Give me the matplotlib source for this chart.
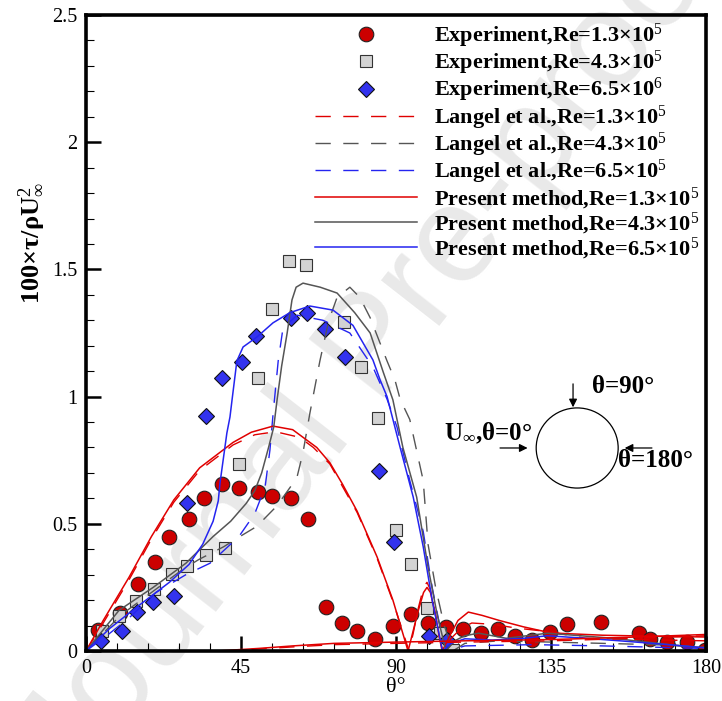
import numpy as np
import matplotlib
matplotlib.use("Agg")
import matplotlib.pyplot as plt
from matplotlib.patches import Ellipse

plt.rcParams["font.family"] = ["Liberation Serif", "DejaVu Serif"]
plt.rcParams["mathtext.fontset"] = "custom"
plt.rcParams["mathtext.rm"] = "Liberation Serif"
plt.rcParams["mathtext.it"] = "Liberation Serif:italic"
plt.rcParams["mathtext.bf"] = "Liberation Serif:bold"

# ---------- experiment points (theta in deg, 100*tau/rhoU^2) ----------
exp13_theta = [3.5, 9.9, 15, 20, 24, 30, 34.3, 39.4, 44.4, 50, 54, 59.5, 64.4, 69.7, 74.4,
               78.7, 84, 89.2, 94.4, 99.3, 104.5, 109.5, 114.7, 119.6, 124.6, 129.5, 134.7,
               139.6, 149.5, 160.5, 163.8, 168.7, 174.5, 179.7]
exp13_val = [0.083, 0.15, 0.263, 0.35, 0.45, 0.52, 0.60, 0.656, 0.64, 0.625, 0.61, 0.60, 0.52,
             0.173, 0.11, 0.078, 0.047, 0.098, 0.145, 0.11, 0.095, 0.086, 0.072, 0.086, 0.059,
             0.043, 0.074, 0.105, 0.113, 0.072, 0.047, 0.036, 0.036, 0.004]

exp43_theta = [4.6, 9.6, 14.5, 19.7, 25, 29.3, 34.8, 40.4, 44.4, 50, 54, 58.9, 63.9, 74.9,
               79.8, 84.8, 90, 94.4, 99, 102.8, 106.6]
exp43_val = [0.078, 0.137, 0.197, 0.243, 0.302, 0.334, 0.377, 0.405, 0.735, 1.073, 1.344,
             1.533, 1.517, 1.293, 1.116, 0.916, 0.476, 0.342, 0.169, 0.071, 0.004]

exp65_theta = [4.4, 10.4, 14.8, 19.5, 25.6, 29.3, 34.8, 39.5, 45.3, 49.4, 59.5, 64.2, 69.4,
               75.2, 85, 89.4, 99.6, 104.8]
exp65_val = [0.04, 0.078, 0.152, 0.193, 0.215, 0.582, 0.924, 1.073, 1.136, 1.238, 1.309,
             1.329, 1.266, 1.156, 0.708, 0.428, 0.059, 0.043]

# ---------- Langel et al. (dashed) ----------
lan13_theta = [0, 5, 12.5, 19, 25.5, 33, 42.7, 49, 55, 62, 66, 70.8, 78.7, 84.5, 89.1, 93.8, 95,
               96.5, 98, 99, 100, 101.5, 102.5, 103.6, 106, 109, 112, 118, 125, 135, 145, 160, 180]
lan13_val = [0, 0.11, 0.28, 0.44, 0.585, 0.71, 0.81, 0.85, 0.862, 0.84, 0.80, 0.735, 0.545,
             0.365, 0.195, 0, 0.07, 0.17, 0.25, 0.27, 0.24, 0.14, 0.06, 0, 0.05, 0.09, 0.11,
             0.105, 0.09, 0.075, 0.05, 0.045, 0.04]
lan13_base_theta = [40, 50, 60, 72, 90, 110, 135, 160, 180]
lan13_base_val = [0, 0.008, 0.016, 0.025, 0.03, 0.035, 0.04, 0.05, 0.06]

lan43_theta = [0, 10, 20, 28, 32.8, 40, 44.7, 49.6, 55.4, 61.2, 63, 65, 67.9, 70.5, 72.9, 76.6,
               79.5, 82.5, 87.4, 89.7, 91.2, 94, 97.9, 99.3, 101.5, 104, 106.5, 110, 120, 135,
               150, 165, 180]
lan43_val = [0, 0.14, 0.24, 0.32, 0.36, 0.41, 0.45, 0.49, 0.57, 0.68, 0.78, 0.935, 1.14, 1.30,
             1.39, 1.43, 1.39, 1.31, 1.14, 1.065, 0.99, 0.91, 0.67, 0.42, 0.25, 0.1, 0, 0.03,
             0.04, 0.035, 0.03, 0.025, 0.015]

lan65_theta = [0, 6, 12.5, 20.3, 29, 36, 44.4, 49, 52, 53.4, 54.3, 55.8, 57.2, 61.3, 68.8,
               76.6, 83.3, 87.4, 90.3, 94, 97.9, 100.5, 103, 105, 110, 130, 150, 180]
lan65_val = [0, 0.06, 0.13, 0.23, 0.30, 0.345, 0.45, 0.54, 0.645, 0.79, 0.93, 1.14, 1.27, 1.32,
             1.30, 1.25, 1.116, 0.99, 0.88, 0.67, 0.47, 0.25, 0.08, 0, 0.02, 0.025, 0.02, 0.01]

# ---------- present method (solid) ----------
pre13_theta = [0, 5, 12.5, 19, 25.5, 33, 42.7, 48, 54.3, 60, 67, 70.8, 74.5, 78.7, 84.5, 89.1,
               93.5, 95, 96.5, 98, 99, 100, 101.5, 102.5, 103.4, 106, 108, 111, 115, 120, 127,
               135, 150, 165, 180]
pre13_val = [0, 0.12, 0.29, 0.45, 0.594, 0.72, 0.82, 0.86, 0.884, 0.87, 0.80, 0.74, 0.655, 0.55,
             0.37, 0.2, 0, 0.08, 0.16, 0.23, 0.25, 0.23, 0.14, 0.06, 0, 0.07, 0.12, 0.153,
             0.14, 0.12, 0.095, 0.071, 0.062, 0.058, 0.055]
pre13_base_theta = [38, 50, 60, 72, 90, 110, 135, 160, 180]
pre13_base_val = [0, 0.01, 0.02, 0.03, 0.035, 0.04, 0.045, 0.055, 0.065]

pre43_theta = [0, 9.6, 19.5, 29, 36.9, 42, 46.5, 49, 51, 53, 54.5, 55.5, 56.8, 58.4, 59.8, 61,
               63, 68, 72.9, 78, 82.5, 86.2, 89.1, 92, 96, 99.3, 102, 104.5, 107, 110, 114,
               122, 134, 153, 170, 180]
pre43_val = [0, 0.16, 0.25, 0.345, 0.45, 0.51, 0.58, 0.63, 0.70, 0.80, 0.88, 0.99, 1.12, 1.25,
             1.38, 1.43, 1.446, 1.43, 1.407, 1.33, 1.25, 1.10, 0.987, 0.80, 0.605, 0.33, 0.14,
             0, 0.04, 0.06, 0.07, 0.05, 0.07, 0.05, 0.024, 0.012]

pre65_theta = [0, 7, 14.5, 24.2, 29.9, 33.9, 36.9, 38.4, 38.9, 40.9, 41.8, 42.4, 43.8, 45.6,
               49.6, 54.3, 59.2, 65, 71.7, 77.5, 83.3, 85.4, 87.4, 91.2, 95, 97.9, 100.5, 103.5,
               106, 110, 118, 127, 134, 145, 155, 170, 180]
pre65_val = [0, 0.09, 0.17, 0.27, 0.34, 0.42, 0.51, 0.59, 0.66, 0.857, 0.92, 0.987, 1.14, 1.195,
             1.234, 1.29, 1.33, 1.356, 1.34, 1.28, 1.144, 1.065, 1.0, 0.80, 0.605, 0.41, 0.2, 0,
             0.03, 0.048, 0.043, 0.05, 0.06, 0.05, 0.04, 0.024, 0.012]

labels = [
    "Experiment,Re=1.3×10$^5$", "Experiment,Re=4.3×10$^5$", "Experiment,Re=6.5×10$^6$",
    "Langel et al.,Re=1.3×10$^5$", "Langel et al.,Re=4.3×10$^5$", "Langel et al.,Re=6.5×10$^5$",
    "Present method,Re=1.3×10$^5$", "Present method,Re=4.3×10$^5$", "Present method,Re=6.5×10$^5$",
]

RED, GRAY, BLUE = "#e00000", "#555555", "#2424f0"
dash = (0, (11, 9))

fig = plt.figure(figsize=(7.22, 7.01), dpi=100)
ax = fig.add_axes([86 / 722, 50 / 701, 620 / 722, 636 / 701])
ax.set_facecolor("none")

# watermark
fig.text(0.52, 0.50, "Journal Pre-proof", fontsize=100, color="#e9e9e9", rotation=52,
         ha="center", va="center", family="Liberation Sans", zorder=-5)

h = []
h += ax.plot(exp13_theta, exp13_val, "o", ms=10.5, mfc="#cc0000", mec="#222222", mew=0.8)
h += ax.plot(exp43_theta, exp43_val, "s", ms=8, mfc="#d3d3d3", mec="#333333", mew=0.8)
h += ax.plot(exp65_theta, exp65_val, "D", ms=8.5, mfc="#3333ee", mec="#111111", mew=0.8)
h += ax.plot(lan13_theta, lan13_val, color=RED, lw=1.0, ls=dash)
h += ax.plot(lan43_theta, lan43_val, color=GRAY, lw=1.0, ls=dash)
h += ax.plot(lan65_theta, lan65_val, color=BLUE, lw=1.0, ls=dash)
h += ax.plot(pre13_theta, pre13_val, color=RED, lw=1.1)
h += ax.plot(pre43_theta, pre43_val, color=GRAY, lw=1.1)
h += ax.plot(pre65_theta, pre65_val, color=BLUE, lw=1.1)
ax.plot(lan13_base_theta, lan13_base_val, color=RED, lw=1.0, ls=dash)
ax.plot(pre13_base_theta, pre13_base_val, color=RED, lw=1.1)

ax.set_xlim(0, 180)
ax.set_ylim(0, 2.5)
ax.set_xticks([0, 45, 90, 135, 180])
ax.set_yticks([0, 0.5, 1, 1.5, 2, 2.5])
ax.set_yticklabels(["0", "0.5", "1", "1.5", "2", "2.5"])
ax.set_xticks(np.arange(0, 181, 9), minor=True)
ax.set_yticks(np.arange(0, 2.51, 0.1), minor=True)
ax.tick_params(which="major", direction="in", length=11, width=1.8, labelsize=14.5, pad=6)
ax.tick_params(which="minor", direction="in", length=6, width=0.8)
for s in ax.spines.values():
    s.set_linewidth(2.6)

ax.set_xlabel("θ°", fontsize=16, labelpad=0)
fig.text(32 / 722, 1 - 243 / 701, "100×τ/ρU$_\\infty^2$", rotation=90, fontsize=19,
         fontweight="bold", ha="center", va="center")

ax.legend(h, labels, loc="upper right", frameon=False, handlelength=4.6, labelspacing=-0.04,
          borderaxespad=0, borderpad=0.3, handletextpad=0.77,
          prop={"family": "Liberation Serif", "weight": "bold", "size": 16})

# cylinder sketch
ax.add_patch(Ellipse((142.6, 0.798), 23.8, 0.315, fill=False, color="black", lw=0.9))
arr = dict(arrowstyle="-|>", color="black", lw=0.9, mutation_scale=12, shrinkA=0, shrinkB=0)
ax.annotate("", xy=(141.4, 0.958), xytext=(141.4, 1.05), arrowprops=arr)
ax.annotate("", xy=(128.2, 0.798), xytext=(120.2, 0.798), arrowprops=arr)
ax.annotate("", xy=(156.4, 0.798), xytext=(164.3, 0.798), arrowprops=arr)
ax.text(147, 1.04, "θ=90°", fontsize=18, fontweight="bold", ha="left", va="center")
ax.text(129.5, 0.855, "U$_\\infty$,θ=0°", fontsize=18, fontweight="bold", ha="right", va="center")
ax.text(154.5, 0.75, "θ=180°", fontsize=18, fontweight="bold", ha="left", va="center")

fig.savefig("out.png", dpi=100)
